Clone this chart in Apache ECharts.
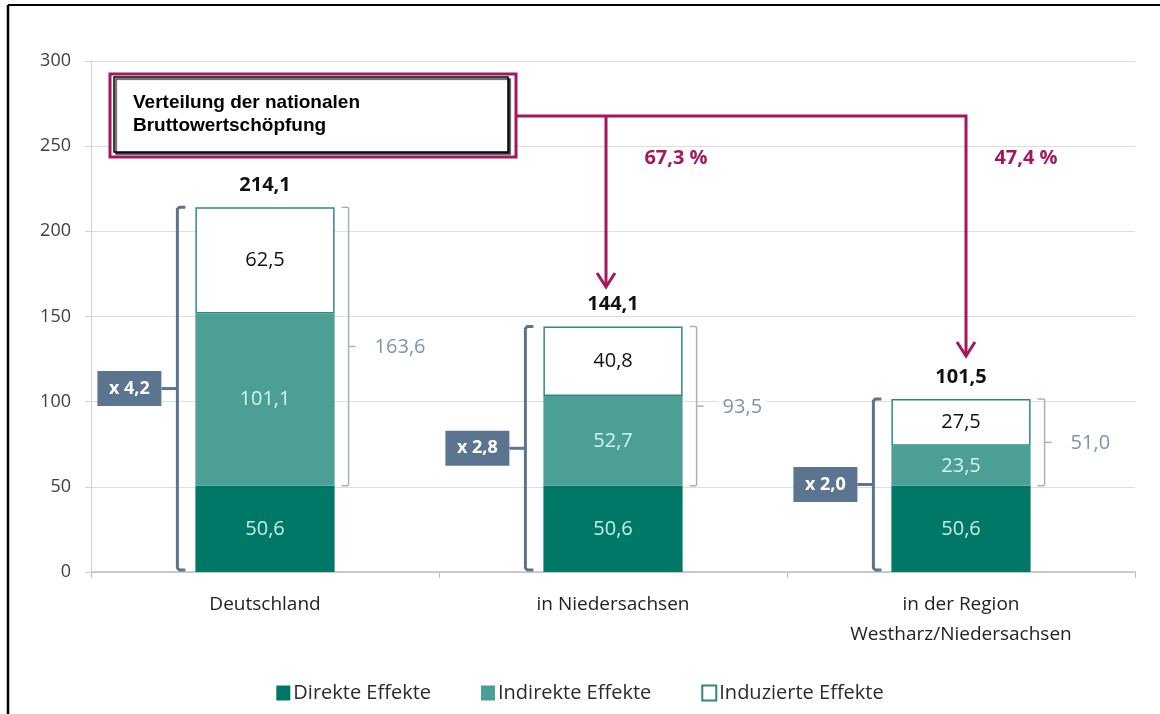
<!DOCTYPE html>
<html>
<head>
<meta charset="utf-8">
<script src="https://cdn.jsdelivr.net/npm/echarts@6/dist/echarts.min.js"></script>
<style>html,body{margin:0;padding:0;background:#fff;}#c{width:1160px;height:714px;}</style>
</head>
<body>
<div id="c"></div>
<script>
const categories = ['Deutschland', 'in Niedersachsen', 'in der Region\nWestharz/Niedersachsen'];
const direct = [50.6, 50.6, 50.6];
const indirect = [101.1, 52.7, 23.5];
const induced = [62.5, 40.8, 27.5];
const totals = [214.1, 144.1, 101.5];
const totalLabels = ['214,1', '144,1', '101,5'];
const sumLabels = ['163,6', '93,5', '51,0'];
const multLabels = ['x 4,2', 'x 2,8', 'x 2,0'];
const shareLabels = ['67,3 %', '47,4 %'];
const yTicks = [0, 50, 100, 150, 200, 250, 300];

const FONT = 'Open Sans';
const cDirect = '#007868';
const cIndirect = '#4b9f94';
const cInducedBorder = '#2f8a7d';
const magenta = '#a3175f';
const slate = '#5b7590';

const fmt = v => String(v).replace('.', ',');

const bracketData = categories.map((c, i) => [i, direct[i], direct[i] + indirect[i] + induced[i]]);

function renderBrackets(params, api) {
  const i = api.value(0);
  const d = api.value(1);
  const t = api.value(2);
  const p0 = api.coord([i, 0]);
  const pD = api.coord([i, d]);
  const pT = api.coord([i, t]);
  const bw = api.size([1, 0])[0] * 0.4;
  const cx = p0[0];
  const xl = cx - bw / 2 - 18;
  const xr = cx + bw / 2 + 14;
  const y0 = p0[1] - 2;
  const yT = pT[1];
  const yD = pD[1];
  const midL = (y0 + yT) / 2;
  const midR = (yD + yT) / 2;
  const boxW = 64, boxH = 35;
  const boxX = xl - 16 - boxW;
  const children = [
    { type: 'polyline', shape: { points: [[xl + 8, yT], [xl + 2, yT], [xl, yT + 2], [xl, y0 - 2], [xl + 2, y0], [xl + 8, y0]] },
      style: { stroke: slate, lineWidth: 3, fill: null } },
    { type: 'line', shape: { x1: xl - 16, y1: midL, x2: xl, y2: midL }, style: { stroke: slate, lineWidth: 3 } },
    { type: 'rect', shape: { x: boxX, y: midL - boxH / 2, width: boxW, height: boxH }, style: { fill: slate } },
    { type: 'text', style: { text: multLabels[params.dataIndex], x: boxX + boxW / 2, y: midL, align: 'center', verticalAlign: 'middle',
      fill: '#ffffff', font: 'bold 18px "' + FONT + '"' } },
    { type: 'polyline', shape: { points: [[xr - 7, yT], [xr - 1, yT], [xr, yT + 1], [xr, yD - 1], [xr - 1, yD], [xr - 7, yD]] },
      style: { stroke: '#a9b1b9', lineWidth: 1.5, fill: null } },
    { type: 'line', shape: { x1: xr, y1: midR, x2: xr + 7, y2: midR }, style: { stroke: '#a9b1b9', lineWidth: 1.5 } },
    { type: 'text', style: { text: sumLabels[params.dataIndex], x: xr + 22, y: midR + 1, align: 'left', verticalAlign: 'middle',
      fill: '#7d94a9', font: '20px "' + FONT + '"', backgroundColor: '#fff', padding: [0, 4] } },
    { type: 'text', style: { text: totalLabels[params.dataIndex], x: cx, y: yT - 22, align: 'center', verticalAlign: 'middle',
      fill: '#111', font: 'bold 20px "' + FONT + '"', backgroundColor: '#fff', padding: [0, 16] } }
  ];
  return { type: 'group', children };
}

const chart = echarts.init(document.getElementById('c'), null, { renderer: 'canvas' });

const barLabel = (color) => ({
  show: true, position: 'inside', color: color, fontFamily: FONT, fontSize: 20,
  formatter: p => fmt(p.value)
});

chart.setOption({
  animation: false,
  backgroundColor: '#ffffff',
  textStyle: { fontFamily: FONT },
  grid: { left: 91, right: 25, top: 61, bottom: 142 },
  legend: {
    left: 'center', top: 678, icon: 'rect', itemWidth: 14, itemHeight: 15, itemGap: 50,
    textStyle: { fontFamily: FONT, fontSize: 20, color: '#2b2b2b', padding: [0, 0, 0, -2] },
    data: ['Direkte Effekte', 'Indirekte Effekte', 'Induzierte Effekte']
  },
  xAxis: {
    type: 'category', data: categories,
    axisLine: { lineStyle: { color: '#bfbfbf', width: 1.5 } },
    axisTick: { show: true, length: 6, lineStyle: { color: '#bfbfbf' } },
    axisLabel: { fontFamily: FONT, fontSize: 19, color: '#222', margin: 18, lineHeight: 30 }
  },
  yAxis: {
    type: 'value', min: 0, max: 300, interval: 50,
    axisLine: { show: true, lineStyle: { color: '#d0d0d0' } },
    axisTick: { show: true, length: 6, lineStyle: { color: '#d0d0d0' } },
    splitLine: { lineStyle: { color: '#dedede' } },
    axisLabel: { fontFamily: FONT, fontSize: 18, color: '#404040', margin: 20,
      formatter: v => yTicks.includes(v) ? String(v) : '' }
  },
  series: [
    { name: 'Direkte Effekte', type: 'bar', stack: 's', barWidth: '40%', data: direct,
      itemStyle: { color: cDirect }, label: barLabel('#c4efe5') },
    { name: 'Indirekte Effekte', type: 'bar', stack: 's', data: indirect,
      itemStyle: { color: cIndirect }, label: barLabel('#d3f5ee') },
    { name: 'Induzierte Effekte', type: 'bar', stack: 's', data: induced,
      itemStyle: { color: '#ffffff', borderColor: cInducedBorder, borderWidth: 1.5 }, label: barLabel('#111') },
    { name: 'brackets', type: 'custom', data: bracketData, renderItem: renderBrackets, z: 5,
      encode: { x: 0, y: 2 }, silent: true }
  ],
  graphic: [
    { type: 'line', shape: { x1: 8, y1: 5, x2: 1160, y2: 5 }, style: { stroke: '#000', lineWidth: 2 } },
    { type: 'line', shape: { x1: 8, y1: 5, x2: 8, y2: 714 }, style: { stroke: '#000', lineWidth: 2.5 } },
    { type: 'rect', shape: { x: 110, y: 74, width: 406, height: 83 }, style: { fill: '#fff', stroke: magenta, lineWidth: 3 }, z: 10 },
    { type: 'rect', shape: { x: 114, y: 77, width: 394, height: 75 },
      style: { fill: '#fff', stroke: '#000', lineWidth: 1.5, shadowColor: '#333', shadowOffsetX: 2, shadowOffsetY: 2, shadowBlur: 1 }, z: 11 },
    { type: 'text', style: { text: 'Verteilung der nationalen\nBruttowertschöpfung', x: 133, y: 91, font: 'bold 19px "Liberation Sans"', fill: '#000', lineHeight: 23 }, z: 12 },
    { type: 'polyline', shape: { points: [[517, 116], [966, 116], [966, 355]] }, style: { stroke: magenta, lineWidth: 3, fill: null }, z: 10 },
    { type: 'line', shape: { x1: 606, y1: 116, x2: 606, y2: 286 }, style: { stroke: magenta, lineWidth: 3 }, z: 10 },
    { type: 'polyline', shape: { points: [[597, 273], [606, 287], [615, 273]] }, style: { stroke: magenta, lineWidth: 3, fill: null }, z: 10 },
    { type: 'polyline', shape: { points: [[957, 342], [966, 356], [975, 342]] }, style: { stroke: magenta, lineWidth: 3, fill: null }, z: 10 },
    { type: 'text', style: { text: shareLabels[0], x: 676, y: 158, align: 'center', verticalAlign: 'middle', font: 'bold 20px "' + FONT + '"', fill: magenta, backgroundColor: '#fff', padding: [0, 18] }, z: 10 },
    { type: 'text', style: { text: shareLabels[1], x: 1026, y: 158, align: 'center', verticalAlign: 'middle', font: 'bold 20px "' + FONT + '"', fill: magenta, backgroundColor: '#fff', padding: [0, 18] }, z: 10 }
  ]
});
</script>
</body>
</html>
